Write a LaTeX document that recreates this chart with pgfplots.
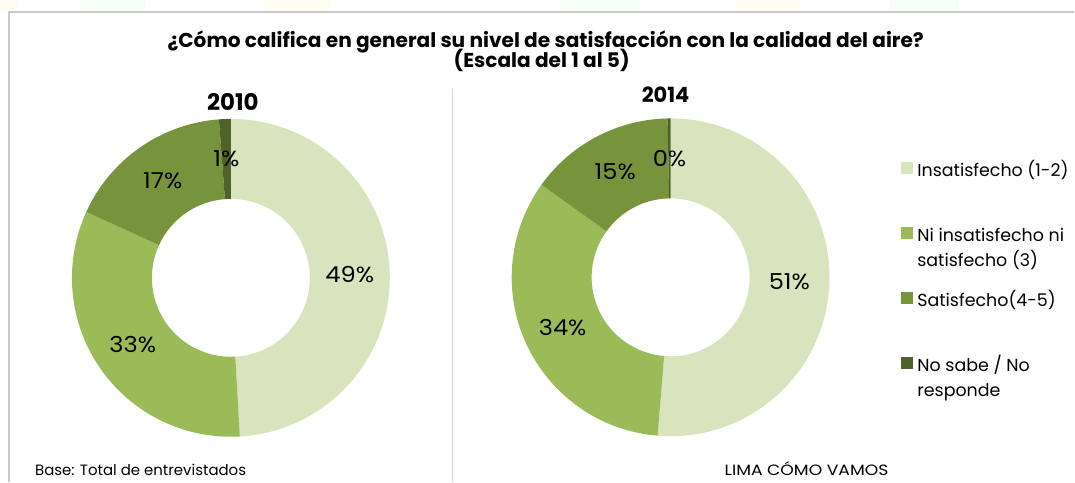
\documentclass[border=0pt]{standalone}
\usepackage{pgfplots}
\pgfplotsset{compat=1.18}
\usepackage{pgfplotstable}
\usepackage{fontspec}
\setmainfont{Poppins}
\newfontfamily\widefam{Poppins}[FakeStretch=1.1]
\newfontfamily\capsfam{Poppins}[FakeStretch=1.15]
\definecolor{cA}{HTML}{D7E4BD}
\definecolor{cB}{HTML}{9BBB59}
\definecolor{cC}{HTML}{77933C}
\definecolor{cD}{HTML}{4F6228}
\definecolor{frame}{HTML}{C8C8C8}

\pgfplotstableread{
cat v2010 v2014
Insatisfecho 49.1 51.3
NiNi 32.7 33.6
Satisfecho 17.0 14.8
NoSabe 1.2 0.3
}\datatable

\newcommand\labfont{\widefam\fontsize{22}{26}\selectfont}
\newcommand\legfont{\fontsize{17.5}{25}\selectfont}
\newcommand\titfont{\fontsize{20.2}{24}\selectfont\bfseries}

% slice: row, column, cx, cy, colour
\newcommand\slice[5]{%
  \pgfplotstablegetelem{#1}{#2}\of\datatable
  \let\val\pgfplotsretval
  \pgfmathsetmacro\aS{90-3.6*\cum}%
  \pgfmathsetmacro\aE{90-3.6*(\cum+\val)}%
  \pgfmathsetmacro\xo{#3+159*cos(\aS)}%
  \pgfmathsetmacro\yo{#4+159*sin(\aS)}%
  \pgfmathsetmacro\xi{#3+79*cos(\aE)}%
  \pgfmathsetmacro\yi{#4+79*sin(\aE)}%
  \edef\temp{\noexpand\fill[#5] (axis cs:\xo,\yo) arc[start angle=\aS,end angle=\aE,radius=159bp] -- (axis cs:\xi,\yi) arc[start angle=\aE,end angle=\aS,radius=79bp] -- cycle;}%
  \temp
  \pgfmathsetmacro\tmpc{\cum+\val}%
  \xdef\cum{\tmpc}%
}
% label: row, column, cx, cy
\newcommand\slicelabel[4]{%
  \pgfplotstablegetelem{#1}{#2}\of\datatable
  \let\val\pgfplotsretval
  \pgfmathsetmacro\aM{90-3.6*(\cum+\val/2)}%
  \pgfmathsetmacro\xl{#3+119*cos(\aM)}%
  \pgfmathsetmacro\yl{#4+119*sin(\aM)}%
  \pgfmathtruncatemacro\pct{round(\val)}%
  \edef\temp{\noexpand\node[font=\noexpand\labfont,inner sep=0pt] at (axis cs:\xl,\yl) {\pct\noexpand\%};}%
  \temp
  \pgfmathsetmacro\tmpc{\cum+\val}%
  \xdef\cum{\tmpc}%
}
\newcommand\donut[3]{% column, cx, cy
  \xdef\cum{0}%
  \slice{0}{#1}{#2}{#3}{cA}\slice{1}{#1}{#2}{#3}{cB}\slice{2}{#1}{#2}{#3}{cC}\slice{3}{#1}{#2}{#3}{cD}%
  \xdef\cum{0}%
  \slicelabel{0}{#1}{#2}{#3}\slicelabel{1}{#1}{#2}{#3}\slicelabel{2}{#1}{#2}{#3}\slicelabel{3}{#1}{#2}{#3}%
}

\begin{document}
\begin{tikzpicture}
\begin{axis}[x=1bp,y=1bp,xmin=0,xmax=1075,ymin=0,ymax=482,
  hide axis,scale only axis,clip=false]
\path (axis cs:0,0) rectangle (axis cs:1075,482);
% faint header decoration
\fill[yellow!6] (axis cs:0,472) rectangle (axis cs:18,482);
\fill[green!4] (axis cs:80,472) rectangle (axis cs:145,482);
\fill[yellow!6] (axis cs:265,472) rectangle (axis cs:330,482);
\fill[green!4] (axis cs:560,472) rectangle (axis cs:640,482);
\fill[yellow!6] (axis cs:735,472) rectangle (axis cs:800,482);
\fill[green!4] (axis cs:890,472) rectangle (axis cs:960,482);
% frame
\draw[frame,line width=1.3pt] (axis cs:9,0) -- (axis cs:9,470) -- (axis cs:1075,470);
\draw[frame!80,line width=1pt] (axis cs:453,0) -- (axis cs:453,393);
% title
\node[font=\titfont,anchor=base] at (axis cs:546,434.5) {¿Cómo califica en general su nivel de satisfacción con la calidad del aire?};
\node[font=\titfont,anchor=base] at (axis cs:542,414.5) {(Escala del 1 al 5)};
\node[font=\fontsize{23}{26}\selectfont\bfseries,anchor=base] at (axis cs:233,371) {2010};
\node[font=\fontsize{21}{24}\selectfont\bfseries,anchor=base] at (axis cs:666,379.7) {2014};
% donuts
\donut{v2010}{231}{204}
\donut{v2014}{671}{204.5}
% legend
\fill[cA] (axis cs:901.7,319.8) rectangle (axis cs:913.3,308.2);
\fill[cB] (axis cs:901.7,254.8) rectangle (axis cs:913.3,243.2);
\fill[cC] (axis cs:901.7,189.8) rectangle (axis cs:913.3,178.2);
\fill[cD] (axis cs:901.7,124.8) rectangle (axis cs:913.3,113.2);
\node[font=\legfont,anchor=base west,inner sep=0pt] at (axis cs:917.7,305.3) {Insatisfecho (1-2)};
\node[font=\legfont,anchor=base west,inner sep=0pt] at (axis cs:917.7,240.3) {Ni insatisfecho ni};
\node[font=\legfont,anchor=base west,inner sep=0pt] at (axis cs:917.7,215.3) {satisfecho (3)};
\node[font=\legfont,anchor=base west,inner sep=0pt] at (axis cs:917.7,175.3) {Satisfecho(4-5)};
\node[font=\legfont,anchor=base west,inner sep=0pt] at (axis cs:917.7,110.3) {No sabe / No};
\node[font=\legfont,anchor=base west,inner sep=0pt] at (axis cs:917.7,85.3) {responde};
% footer
\node[font=\fontsize{15}{18}\selectfont,anchor=base west,inner sep=0pt] at (axis cs:35,6.3) {Base: Total de entrevistados};
\node[font=\capsfam\fontsize{15}{18}\selectfont,anchor=base,inner sep=0pt] at (axis cs:807,6.3) {LIMA CÓMO VAMOS};
\end{axis}
\end{tikzpicture}
\end{document}
